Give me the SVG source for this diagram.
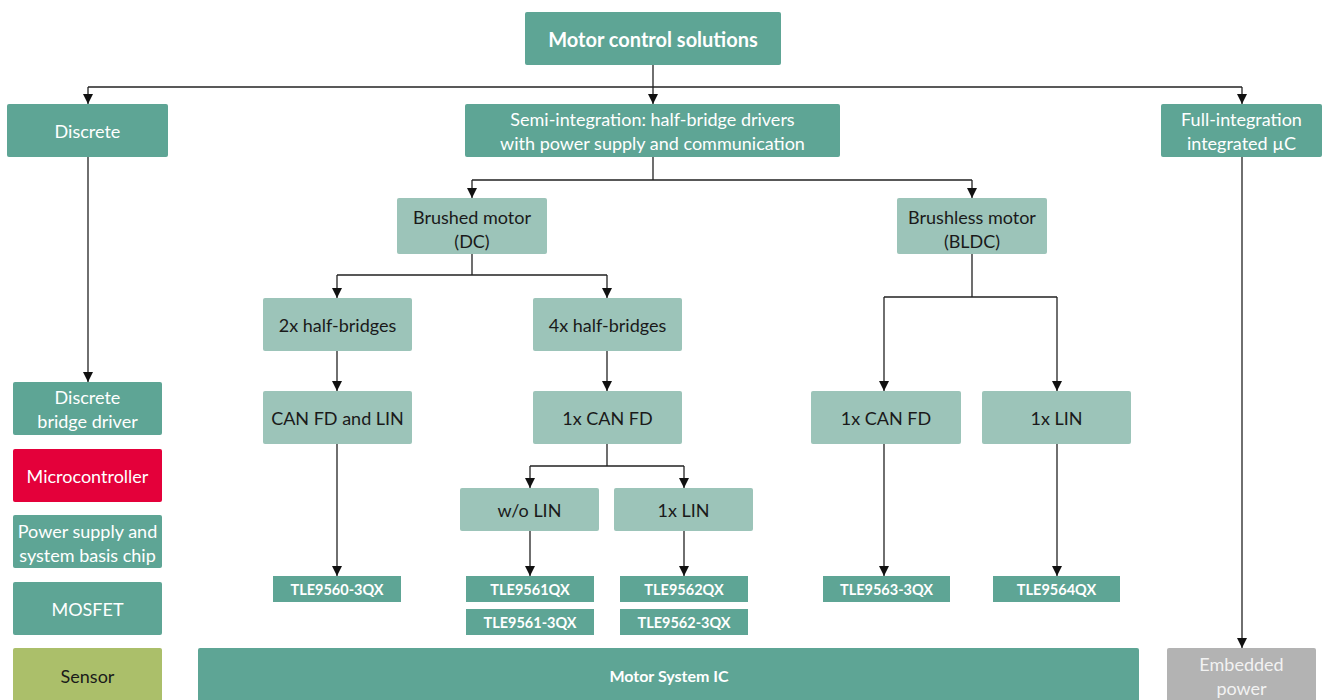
<svg xmlns="http://www.w3.org/2000/svg" width="1324" height="700" viewBox="0 0 1324 700">
<defs>
<marker id="ah" markerWidth="10" markerHeight="10" refX="10" refY="5" orient="auto" markerUnits="userSpaceOnUse" viewBox="0 0 10 10">
<path d="M0,0 L10,5 L0,10 Z" fill="#111"/>
</marker>
<style>
text{font-family:"Lato","Open Sans",sans-serif;font-size:18px;text-anchor:middle;dominant-baseline:central}
.d rect{fill:#5ea595}
.d text{fill:#ffffff}
.l rect{fill:#9cc4b9}
.l text{fill:#1a1a1a}
.p rect{fill:#5ea595}
.p text{fill:#ffffff;font-weight:bold;font-size:14.5px}
.b{font-weight:bold}
.c path{fill:none;stroke:#222;stroke-width:1.3}
.c .a{marker-end:url(#ah)}
</style>
</defs>
<rect width="1324" height="700" fill="#ffffff"/>
<g class="c" id="connectors">
<path d="M653,65 V87"/>
<path d="M88,87 H1242"/>
<path class="a" d="M88,87 V104"/>
<path class="a" d="M653,87 V104"/>
<path class="a" d="M1242,87 V104"/>
<path class="a" d="M88,157 V382"/>
<path class="a" d="M1242,157 V648"/>
<path d="M653,157 V180 M472,180 H972"/>
<path class="a" d="M472,180 V198"/>
<path class="a" d="M972,180 V198"/>
<path d="M472,254 V275 M337,275 H607"/>
<path class="a" d="M337,275 V298"/>
<path class="a" d="M607,275 V298"/>
<path class="a" d="M337,351 V391"/>
<path class="a" d="M607,351 V391"/>
<path class="a" d="M337,444 V576"/>
<path d="M607,444 V466 M530,466 H684"/>
<path class="a" d="M530,466 V488"/>
<path class="a" d="M684,466 V488"/>
<path class="a" d="M530,531 V576"/>
<path class="a" d="M684,531 V576"/>
<path d="M972,254 V297 M884,297 H1057"/>
<path class="a" d="M884,297 V391"/>
<path class="a" d="M1057,297 V391"/>
<path class="a" d="M884,444 V576"/>
<path class="a" d="M1057,444 V576"/>
</g>
<g id="root" class="d"><rect x="525" y="12" width="256" height="53" rx="2"/><text class="b" x="653" y="38.5" style="font-size:20px">Motor control solutions</text></g>
<g id="discrete" class="d"><rect x="7" y="104" width="161" height="53" rx="2"/><text x="87.5" y="131">Discrete</text></g>
<g id="semi" class="d"><rect x="465" y="104" width="375" height="53" rx="2"/><text x="652.5" y="119">Semi-integration: half-bridge drivers</text><text x="652.5" y="143">with power supply and communication</text></g>
<g id="full" class="d"><rect x="1161" y="104" width="161" height="53" rx="2"/><text x="1241.5" y="119">Full-integration</text><text x="1241.5" y="143">integrated µC</text></g>
<g id="brushed" class="l"><rect x="397" y="198" width="150" height="56" rx="2"/><text x="472" y="217">Brushed motor</text><text x="472" y="241">(DC)</text></g>
<g id="brushless" class="l"><rect x="897" y="198" width="150" height="56" rx="2"/><text x="972" y="217">Brushless motor</text><text x="972" y="241">(BLDC)</text></g>
<g id="hb2" class="l"><rect x="263" y="298" width="149" height="53" rx="2"/><text x="337.5" y="325">2x half-bridges</text></g>
<g id="hb4" class="l"><rect x="533" y="298" width="149" height="53" rx="2"/><text x="607.5" y="325">4x half-bridges</text></g>
<g id="canfdlin" class="l"><rect x="263" y="391" width="149" height="53" rx="2"/><text x="337.5" y="418">CAN FD and LIN</text></g>
<g id="canfd1" class="l"><rect x="533" y="391" width="149" height="53" rx="2"/><text x="607.5" y="418">1x CAN FD</text></g>
<g id="wolin" class="l"><rect x="460" y="488" width="139" height="43" rx="2"/><text x="529.5" y="510">w/o LIN</text></g>
<g id="lin1a" class="l"><rect x="614" y="488" width="139" height="43" rx="2"/><text x="683.5" y="510">1x LIN</text></g>
<g id="canfd2" class="l"><rect x="811" y="391" width="150" height="53" rx="2"/><text x="886" y="418">1x CAN FD</text></g>
<g id="lin1b" class="l"><rect x="982" y="391" width="149" height="53" rx="2"/><text x="1056.5" y="418">1x LIN</text></g>
<g id="tle9560" class="p"><rect x="273" y="576" width="128" height="26"/><text x="337" y="589.5">TLE9560-3QX</text></g>
<g id="tle9561" class="p"><rect x="466" y="576" width="128" height="26"/><text x="530" y="589.5">TLE9561QX</text></g>
<g id="tle9561-3" class="p"><rect x="466" y="609" width="128" height="26"/><text x="530" y="622.5">TLE9561-3QX</text></g>
<g id="tle9562" class="p"><rect x="620" y="576" width="128" height="26"/><text x="684" y="589.5">TLE9562QX</text></g>
<g id="tle9562-3" class="p"><rect x="620" y="609" width="128" height="26"/><text x="684" y="622.5">TLE9562-3QX</text></g>
<g id="tle9563" class="p"><rect x="823" y="576" width="127" height="26"/><text x="886.5" y="589.5">TLE9563-3QX</text></g>
<g id="tle9564" class="p"><rect x="993" y="576" width="127" height="26"/><text x="1056.5" y="589.5">TLE9564QX</text></g>
<g id="msic" class="p"><rect x="198" y="648" width="941" height="60" rx="2"/><text x="669" y="675.5" style="font-size:16px">Motor System IC</text></g>
<g id="embedded"><rect x="1167" y="648" width="149" height="60" rx="2" fill="#b3b3b3"/><text x="1241.5" y="664" fill="#f2f2f2">Embedded</text><text x="1241.5" y="688" fill="#f2f2f2">power</text></g>
<g id="leg-bridge" class="d"><rect x="13" y="382" width="149" height="53" rx="2"/><text x="87.5" y="397">Discrete</text><text x="87.5" y="421">bridge driver</text></g>
<g id="leg-mcu"><rect x="13" y="449" width="149" height="53" rx="2" fill="#e4003a"/><text x="87.5" y="476" fill="#ffffff">Microcontroller</text></g>
<g id="leg-psu" class="d"><rect x="13" y="515" width="149" height="53" rx="2"/><text x="87.5" y="531">Power supply and</text><text x="87.5" y="555">system basis chip</text></g>
<g id="leg-mosfet" class="d"><rect x="13" y="582" width="149" height="53" rx="2"/><text x="87.5" y="608.5">MOSFET</text></g>
<g id="leg-sensor"><rect x="13" y="648" width="149" height="60" rx="2" fill="#abbf6a"/><text x="87.5" y="675.5" fill="#1a1a1a">Sensor</text></g>
</svg>
